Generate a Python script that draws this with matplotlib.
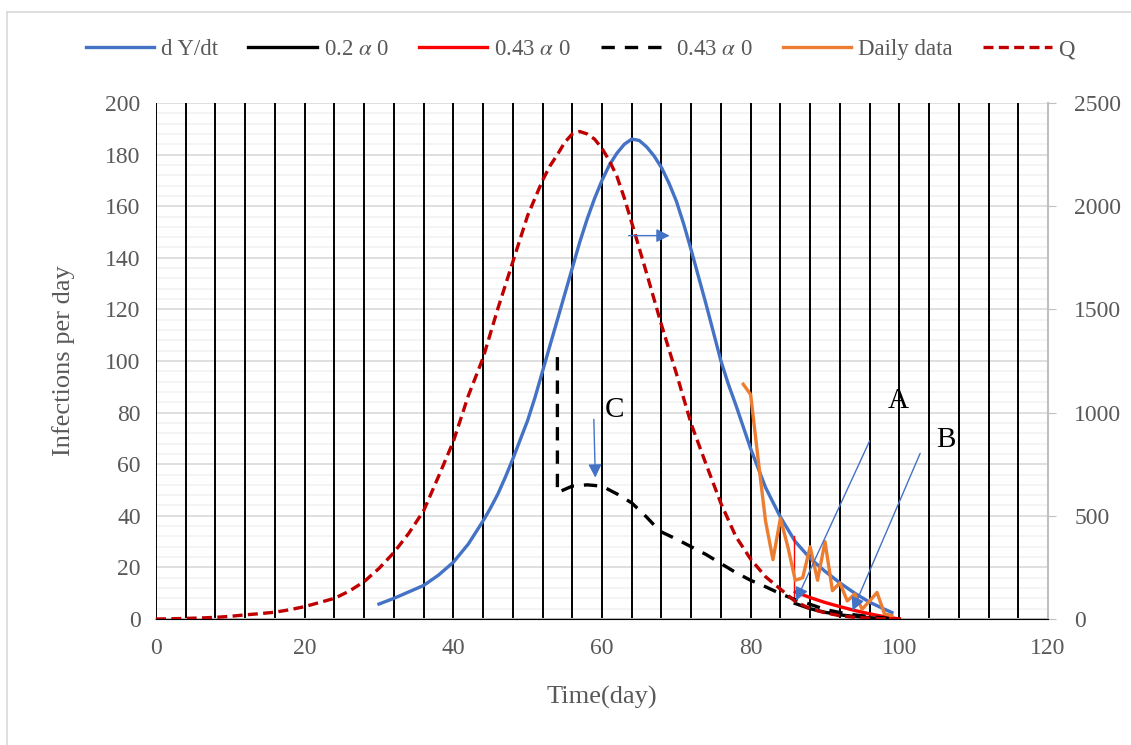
import matplotlib.pyplot as plt
from matplotlib.lines import Line2D

plt.rcParams['font.family'] = ['Liberation Serif', 'DejaVu Serif']
plt.rcParams['mathtext.fontset'] = 'stix'

# dY/dt, left axis
t_dydt = [30, 32, 34, 36, 38, 40, 42, 44, 45, 46, 47, 48, 49, 50, 51, 52, 53, 54, 55, 56, 57, 58, 59,
          60, 61, 62, 63, 64, 65, 66, 67, 68, 69, 70, 71, 72, 73, 74, 75, 76, 77, 78, 80, 82, 84,
          86, 88, 90, 92, 94, 96, 98, 99]
dydt = [5.8, 8, 10.5, 13, 17, 22, 29, 38, 43, 48.5, 55, 62, 69.5, 77, 86, 96, 106, 116, 126, 136, 146, 155,
        163, 170, 176, 180.5, 184, 186, 185.5, 183, 179.5, 175, 169, 162, 153, 143, 132.5, 122, 111, 100,
        91, 83, 66, 51, 39.5, 30, 23.5, 18.5, 14, 10, 6.5, 3.8, 2.5]

# 0.2 a0 (solid black)
t_a02 = [86, 88, 90, 92, 94, 96, 98, 100]
a02 = [6, 4, 2.6, 1.6, 1.0, 0.5, 0.2, 0]

# 0.43 a0 (solid red)
t_a043 = [86, 88, 90, 92, 94, 96, 98, 100]
a043 = [10.5, 8.3, 6.4, 4.8, 3.3, 2.0, 0.9, 0]
t_a043_drop = [85.8, 85.8]
a043_drop = [32, 7.5]

# 0.43 a0 (dashed black)
t_a043d = [54, 54, 56, 58, 60, 62, 64, 66, 67.8, 70, 72, 74, 76, 78, 80, 82, 84, 86, 88, 90,
           92, 94, 96, 98, 100]
a043d = [101.5, 49, 51.5, 52, 51.5, 48.5, 45, 39.5, 34, 31, 28, 25, 21.5, 18, 15, 12.5, 9.8, 7.5, 5.7, 3.7,
         2.5, 1.6, 0.9, 0.4, 0]

# daily data
t_daily = list(range(79, 100))
daily = [91, 87, 62, 38, 23, 39, 28, 15, 16, 28, 15, 30, 11, 14, 7, 9.7, 3.8, 7, 10.3, 2, 1.3]

# Q, right axis
t_q = [0, 2, 4, 6, 8, 10, 12, 14, 16, 18, 20, 22, 24, 26, 28, 30, 32, 34, 36, 38, 40, 42, 44, 46, 48,
       50, 52, 53, 54, 55, 56, 57, 58, 59, 60, 61, 62, 63, 64, 66, 68, 70, 72, 74, 76, 78, 80, 82, 84,
       86, 88, 90, 92, 94, 96, 98, 100]
q = [0, 1, 3, 5, 8, 13, 20, 26, 33, 45, 60, 80, 100, 135, 181, 245, 322, 415, 524, 690, 860, 1080, 1265,
     1505, 1730, 1955, 2125, 2195, 2250, 2310, 2350, 2362, 2350, 2325, 2280, 2220, 2145, 2040, 1920,
     1675, 1425, 1190, 945, 750, 560, 400, 290, 205, 145, 85, 50, 30, 16, 8, 4, 1, 0]

gray = '#595959'
blue = '#4472C4'

fig = plt.figure(figsize=(11.31, 7.45), dpi=100)
ax = fig.add_axes([156 / 1131, 126 / 745, 892 / 1131, 516 / 745])
ax2 = ax.twinx()

ax.set_xlim(0, 120)
ax.set_ylim(0, 200)
ax2.set_ylim(0, 2500)
ax.set_xticks(range(0, 121, 20))
ax.set_yticks(range(0, 201, 20))
ax2.set_yticks(range(0, 2501, 500))

# grid: light horizontal lines, black vertical lines every 4 days
for yv in range(4, 201, 4):
    c = '#D9D9D9' if yv % 20 == 0 else '#F2F2F2'
    ax.axhline(yv, color=c, lw=1.2, zorder=0)
for xv in range(0, 117, 4):
    ax.axvline(xv, color='black', lw=1.4, zorder=0.5)

for a in (ax, ax2):
    a.spines['top'].set_visible(False)
    a.spines['left'].set_visible(False)
ax.spines['right'].set_visible(False)
ax.spines['bottom'].set_color('#BFBFBF')
ax.spines['bottom'].set_linewidth(1.5)
ax2.spines['right'].set_color('#BFBFBF')
ax2.spines['right'].set_linewidth(1.5)

ax.tick_params(axis='both', length=0, labelsize=17, labelcolor=gray)
ax.tick_params(axis='y', pad=11)
ax.tick_params(axis='x', pad=14)
ax2.tick_params(axis='y', length=6, color='#BFBFBF', labelsize=17, labelcolor=gray, pad=13)

ax.set_xlabel('Time(day)', fontsize=19, color=gray)
ax.set_ylabel('Infections per day', fontsize=19, color=gray)
ax.xaxis.set_label_coords(0.5, -0.13)
ax.yaxis.set_label_coords(-0.091, 0.5)

lw = 2.4
l1, = ax.plot(t_dydt, dydt, color=blue, lw=lw, label='d Y/dt', zorder=3)
l2, = ax.plot(t_a02, a02, color='black', lw=lw, label=r'0.2 $\alpha$ 0', zorder=3)
l3, = ax.plot(t_a043, a043, color='#FF0000', lw=lw, label=r'0.43 $\alpha$ 0', zorder=3)
ax.plot(t_a043_drop, a043_drop, color='#FF0000', lw=1.0, zorder=3)
l4, = ax.plot(t_a043d, a043d, color='black', lw=lw, ls=(0, (4, 3)), label=r'0.43 $\alpha$ 0', zorder=3)
l5, = ax.plot(t_daily, daily, color='#ED7D31', lw=lw, label='Daily data', zorder=4)
l6, = ax2.plot(t_q, q, color='#C00000', lw=lw, ls=(0, (3, 1.6)), label='Q', zorder=3)

# annotation arrows (drawn on top axes, positioned in left-axis data units)
arrow = dict(arrowstyle='-|>', color=blue, lw=1.0, mutation_scale=20, shrinkA=0, shrinkB=0)
for x0, y0, x1, y1 in [(96.0, 69.0, 86.1, 7.1), (102.8, 64.2, 93.7, 3.2),
                       (58.9, 77.4, 59.1, 54.8), (63.6, 148.6, 69.1, 148.6)]:
    ax2.annotate('', xy=(x1, y1), xytext=(x0, y0), xycoords=ax.transData,
                 textcoords=ax.transData, arrowprops=arrow)
for txt, xv, yv in [('A', 99.8, 84.5), ('B', 106.2, 69.5), ('C', 61.7, 81)]:
    ax2.text(xv, yv, txt, transform=ax.transData, fontsize=21, ha='center', va='center')

fig.legend(handles=[l1, l2, l3, l4, l5, l6], loc='center', bbox_to_anchor=(0.513, 0.933), ncol=6,
           frameon=False, fontsize=16.5, labelcolor=gray, handlelength=3.0, columnspacing=1.3,
           handletextpad=0.3)

# chart border
fig.add_artist(Line2D([7 / 1131, 7 / 1131], [0, 1 - 12 / 745], color='#D9D9D9', lw=1.2))
fig.add_artist(Line2D([7 / 1131, 1], [1 - 12 / 745, 1 - 12 / 745], color='#D9D9D9', lw=1.2))

fig.savefig('out.png', dpi=100)
